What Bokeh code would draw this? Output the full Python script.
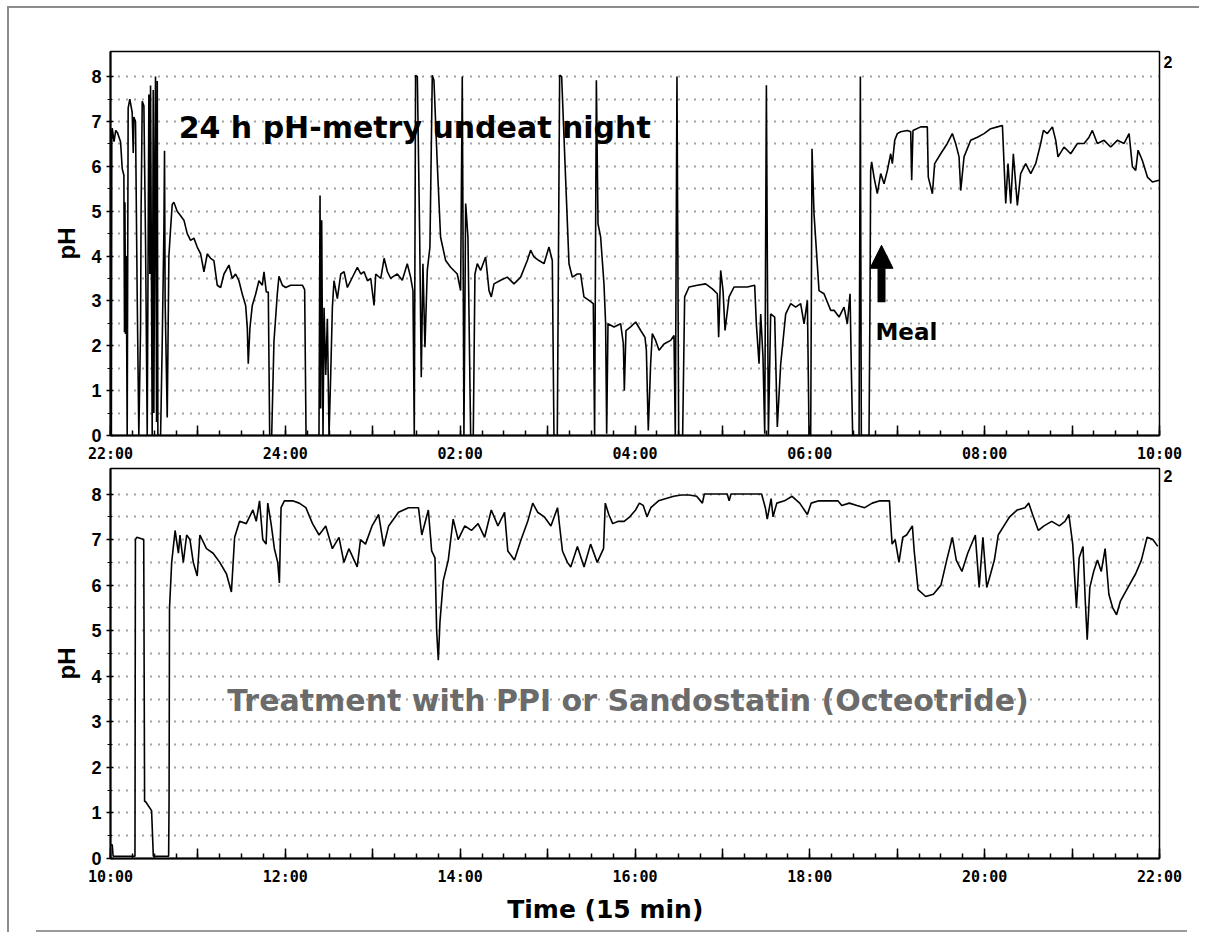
from bokeh.plotting import figure
from bokeh.models import Range1d, FixedTicker, Label, Arrow, NormalHead, Div, LinearAxis
from bokeh.layouts import column
from bokeh.embed import file_html
from bokeh.resources import INLINE

# ---------------- data (hours after start of each panel, pH) ----------------
top_hours = [
    0.00, 0.01, 0.015, 0.02, 0.04, 0.06, 0.08, 0.115, 0.134, 0.153, 0.16, 0.165, 0.172, 0.18, 0.191,
    0.202, 0.221, 0.248, 0.26, 0.267, 0.286, 0.305, 0.324, 0.344, 0.35, 0.363, 0.382, 0.401, 0.42,
    0.439, 0.45, 0.458, 0.477, 0.489, 0.496, 0.508, 0.515, 0.527, 0.535, 0.542, 0.573, 0.592, 0.611,
    0.618, 0.625, 0.649, 0.668, 0.687, 0.706, 0.725, 0.763, 0.802, 0.84, 0.878, 0.916, 0.954, 0.992,
    1.031, 1.069, 1.107, 1.145, 1.183, 1.221, 1.26, 1.298, 1.355, 1.393, 1.431, 1.469, 1.508, 1.546,
    1.565, 1.576, 1.595, 1.622, 1.66, 1.698, 1.737, 1.756, 1.782, 1.805, 1.821, 1.844, 1.87, 1.908,
    1.927, 1.966, 2.004, 2.061, 2.137, 2.195, 2.221, 2.237, 2.385, 2.397, 2.405, 2.416, 2.431, 2.443,
    2.462, 2.481, 2.5, 2.519, 2.538, 2.557, 2.595, 2.634, 2.672, 2.71, 2.748, 2.786, 2.824, 2.863,
    2.901, 2.939, 2.977, 3.015, 3.034, 3.092, 3.13, 3.168, 3.206,
    3.223, 3.281, 3.338, 3.395, 3.433, 3.46, 3.475, 3.49, 3.51, 3.536, 3.555, 3.574, 3.597, 3.624,
    3.654, 3.681, 3.7, 3.738, 3.776, 3.834, 3.891, 3.967, 4.005, 4.024, 4.036, 4.043, 4.063, 4.089,
    4.12, 4.15, 4.169, 4.196, 4.234, 4.291, 4.33, 4.356, 4.387, 4.463, 4.539, 4.616, 4.692, 4.768,
    4.806, 4.844, 4.901, 4.959, 5.016, 5.054, 5.073, 5.111, 5.138, 5.161, 5.207, 5.245, 5.283, 5.34,
    5.378, 5.416, 5.474, 5.523, 5.538, 5.558, 5.577, 5.607, 5.645, 5.664, 5.676, 5.691, 5.76, 5.836,
    5.867, 5.878, 5.897, 5.95, 6.008, 6.065, 6.114, 6.13, 6.152, 6.179, 6.198, 6.236, 6.275, 6.332,
    6.408, 6.446, 6.461, 6.48, 6.5, 6.545, 6.568, 6.618, 6.713, 6.808, 6.885, 6.942, 6.957, 6.98,
    7.007, 7.03, 7.076, 7.133, 7.209, 7.285, 7.369, 7.388, 7.419, 7.438, 7.464, 7.484, 7.503, 7.514,
    7.526, 7.552, 7.598, 7.628, 7.667, 7.724, 7.781, 7.838, 7.895, 7.934, 7.972, 7.991, 8.01, 8.025,
    8.048, 8.105, 8.162, 8.239,
    8.277, 8.334, 8.391, 8.429, 8.46, 8.475, 8.49, 8.563, 8.578, 8.589, 8.677, 8.688, 8.696, 8.707,
    8.734, 8.772, 8.811, 8.849, 8.887, 8.925, 8.944, 8.971, 9.001, 9.039, 9.116, 9.154, 9.165, 9.18,
    9.268, 9.344, 9.355, 9.402, 9.428, 9.497, 9.573, 9.63, 9.668, 9.707, 9.726, 9.764, 9.84, 9.917,
    9.993, 10.069, 10.145, 10.203, 10.241, 10.267, 10.298, 10.328, 10.374, 10.412, 10.469, 10.527,
    10.584, 10.641, 10.672, 10.717, 10.775, 10.813, 10.839, 10.908, 10.984, 11.061, 11.137, 11.194,
    11.232, 11.289, 11.366, 11.442, 11.518, 11.595, 11.652, 11.69, 11.728, 11.755, 11.804, 11.862,
    11.919, 11.995,
]
top_ph = [
    0.3, 0.0, 6.8, 6.85, 6.55, 6.8, 6.75, 6.55, 5.95, 5.8, 2.3, 5.2, 2.26, 4.0, 0.0,
    7.3, 7.5, 7.2, 6.3, 7.1, 7.0, 3.2, 0.0, 2.4, 5.0, 7.45, 7.35, 4.3, 0.0,
    7.6, 3.6, 7.8, 0.0, 7.7, 0.5, 6.0, 8.0, 0.3, 7.9, 0.0, 0.0, 2.1, 4.6,
    6.35, 3.0, 0.4, 4.0, 4.6, 5.15, 5.2, 5.0, 4.9, 4.8, 4.5, 4.35, 4.4, 4.2,
    4.05, 3.65, 4.05, 3.95, 3.9, 3.35, 3.3, 3.6, 3.8, 3.5, 3.6, 3.45, 3.15, 2.9,
    2.4, 1.6, 2.4, 2.9, 3.15, 3.45, 3.35, 3.65, 3.2, 3.2, 0.0, 0.0, 2.1, 3.15,
    3.55, 3.35, 3.3, 3.35, 3.35, 3.35, 3.25, 0.0, 0.0, 5.35, 0.6, 4.8, 0.0, 2.85,
    1.35, 2.6, 0.0, 1.35, 2.85, 3.45, 3.05, 3.6, 3.65, 3.3, 3.45, 3.6, 3.75, 3.6,
    3.65, 3.45, 3.5, 2.9, 3.6, 3.5, 3.95, 3.65, 3.5,
    3.53, 3.6, 3.46, 3.83, 3.53, 3.23, 0.0, 8.03, 8.0, 4.57, 1.3, 3.83, 1.97, 3.68,
    4.2, 8.03, 7.92, 6.06, 4.42, 3.9, 3.75, 3.6, 3.23, 8.0, 3.09, 0.0, 5.17, 4.42,
    0.0, 0.0, 3.6, 3.83, 3.68, 3.98, 3.23, 3.09, 3.38, 3.46, 3.53, 3.38, 3.53, 3.9,
    4.13, 3.98, 3.9, 3.83, 4.2, 3.9, 0.0, 0.0, 8.03, 8.0, 5.69, 3.83, 3.53, 3.6,
    3.6, 3.09, 3.01, 2.94, 0.0, 7.92, 4.72, 4.42, 3.38, 2.49, 0.04, 2.49, 2.42, 2.49,
    2.04, 1.0, 2.34, 2.42, 2.53, 2.34, 2.19, 1.9, 0.11, 1.6, 2.27, 2.12, 1.9, 2.04,
    2.12, 2.23, 0.0, 8.0, 0.0, 0.0, 3.09, 3.31, 3.35, 3.38, 3.27, 3.16, 2.19, 3.68,
    3.23, 2.34, 3.09, 3.31, 3.31, 3.31, 3.35, 2.49, 1.6, 2.71, 1.75, 0.04, 7.81, 3.83,
    0.0, 2.71, 2.64, 0.19, 1.6, 2.71, 2.94, 2.86, 2.94, 2.49, 3.01, 0.0, 0.0, 6.39,
    4.94, 3.23, 3.16, 2.79,
    2.79, 2.64, 2.86, 2.49, 3.16, 1.45, 0.0, 0.0, 8.0, 0.0, 0.0, 2.94, 5.91, 6.1,
    5.76, 5.39, 5.84, 5.61, 5.91, 6.28, 6.06, 6.58, 6.73, 6.77, 6.8, 6.77, 5.69, 6.8,
    6.88, 6.88, 5.76, 5.39, 6.06, 6.28, 6.51, 6.73, 6.51, 6.21, 5.46, 6.21, 6.58, 6.65,
    6.73, 6.84, 6.88, 6.91, 5.17, 6.06, 5.17, 6.28, 5.13, 5.84, 6.06, 5.84,
    6.06, 6.51, 6.8, 6.73, 6.88, 6.58, 6.21, 6.43, 6.28, 6.51, 6.51, 6.65,
    6.8, 6.51, 6.58, 6.43, 6.58, 6.51, 6.73, 5.99, 5.91, 6.36, 6.13, 5.76,
    5.65, 5.69,
]

bottom_hours = [
    0.00, 0.02, 0.03, 0.28, 0.285, 0.30, 0.38, 0.39, 0.40, 0.47, 0.49, 0.665, 0.67, 0.675, 0.70,
    0.739, 0.777, 0.795, 0.833, 0.871, 0.909, 0.947, 0.992, 1.023, 1.098, 1.174, 1.25, 1.326, 1.383,
    1.42, 1.477, 1.553, 1.629, 1.667, 1.705, 1.742, 1.78, 1.799, 1.837, 1.875, 1.913, 1.932, 1.951,
    1.989, 2.083, 2.159, 2.235, 2.311, 2.386, 2.462, 2.538, 2.614, 2.67, 2.727, 2.822, 2.86, 2.917,
    2.992, 3.068, 3.125, 3.182, 3.295, 3.409, 3.523, 3.561, 3.636, 3.674, 3.712, 3.731, 3.75, 3.769,
    3.807, 3.864, 3.92, 3.977, 4.053, 4.129, 4.205, 4.28, 4.356, 4.432, 4.508, 4.545, 4.621, 4.697,
    4.773, 4.83, 4.886, 4.962, 5.038, 5.114, 5.17, 5.227, 5.265, 5.341, 5.417, 5.492, 5.568, 5.64,
    5.66, 5.70, 5.745, 5.81, 5.876, 5.94, 6.007, 6.05, 6.094, 6.138, 6.181, 6.269, 6.356, 6.443,
    6.531, 6.618, 6.705, 6.771, 6.793, 6.88, 7.055, 7.077, 7.098, 7.448, 7.491, 7.513, 7.557, 7.579,
    7.622, 7.71, 7.797, 7.884, 7.972, 8.015, 8.103, 8.19, 8.321, 8.365, 8.452, 8.539, 8.627, 8.714,
    8.801, 8.911, 8.924, 8.941, 8.976, 9.02, 9.063, 9.107, 9.173, 9.194, 9.238, 9.325, 9.413, 9.5,
    9.566, 9.631, 9.675, 9.74, 9.806, 9.893, 9.937, 9.98, 10.024, 10.068, 10.111, 10.155, 10.22,
    10.286, 10.373, 10.461, 10.504, 10.548, 10.614, 10.679, 10.767, 10.854, 10.919, 10.963, 11.007,
    11.05, 11.081, 11.125, 11.151, 11.173, 11.203, 11.247, 11.29, 11.334, 11.378, 11.421, 11.465,
    11.509, 11.553, 11.64, 11.727, 11.793, 11.858, 11.924, 11.98,
]
bottom_ph = [
    0.3, 0.3, 0.05, 0.05, 7.0, 7.05, 7.0, 1.25, 1.25, 1.05, 0.05, 0.05, 1.3, 5.5, 6.5,
    7.2, 6.7, 7.1, 6.5, 7.1, 7.0, 6.5, 6.2, 7.1, 6.8, 6.7, 6.5, 6.25, 5.85,
    7.05, 7.4, 7.35, 7.65, 7.4, 7.85, 7.0, 6.9, 7.8, 7.35, 6.8, 6.5, 6.05, 7.7,
    7.85, 7.85, 7.8, 7.7, 7.35, 7.1, 7.3, 6.8, 7.05, 6.5, 6.8, 6.4, 7.0, 6.9,
    7.3, 7.55, 6.85, 7.3, 7.6, 7.7, 7.7, 7.1, 7.65, 6.75, 6.6, 5.0, 4.35, 5.2,
    6.1, 6.55, 7.45, 7.0, 7.3, 7.2, 7.35, 7.05, 7.65, 7.3, 7.6, 6.75, 6.55, 7.0,
    7.4, 7.8, 7.6, 7.5, 7.3, 7.7, 6.75, 6.5, 6.4, 6.85, 6.4, 6.9, 6.5, 6.8,
    7.8, 7.55, 7.35, 7.4, 7.4, 7.5, 7.65, 7.8, 7.75, 7.5, 7.7, 7.85, 7.9, 7.95,
    7.98, 7.98, 7.95, 7.8, 8.0, 8.0, 8.0, 7.85, 8.0, 8.0, 7.7, 7.45, 7.9, 7.5,
    7.8, 7.85, 7.95, 7.8, 7.55, 7.8, 7.85, 7.85, 7.85, 7.75, 7.8, 7.75, 7.7, 7.8,
    7.85, 7.85, 7.4, 6.9, 7.0, 6.5, 7.05, 7.1, 7.3, 6.75, 5.9, 5.75, 5.8, 6.0,
    6.55, 7.05, 6.55, 6.3, 6.7, 7.1, 5.95, 7.05, 5.95, 6.25, 6.55, 7.1, 7.3,
    7.5, 7.65, 7.7, 7.8, 7.55, 7.2, 7.3, 7.4, 7.3, 7.4, 7.55, 6.9,
    5.5, 6.6, 6.85, 5.65, 4.8, 5.95, 6.3, 6.55, 6.3, 6.8, 5.8, 5.5,
    5.35, 5.65, 5.95, 6.25, 6.55, 7.05, 7.0, 6.85,
]

top_tick_labels = ["22:00", "24:00", "02:00", "04:00", "06:00", "08:00", "10:00"]
bottom_tick_labels = ["10:00", "12:00", "14:00", "16:00", "18:00", "20:00", "22:00"]
labelled_hours = [0, 2, 4, 6, 8, 10, 12]
ph_ticks = [0, 1, 2, 3, 4, 5, 6, 7, 8]

# annotation positions (hours, pH)
TITLE_POS = (3.48, 6.87)
MEAL_ARROW = (8.82, 2.97, 4.24)
MEAL_POS = (8.75, 2.30)
TREAT_POS = (5.92, 3.47)
TIME_X = 5.66
TOP_MARK_Y = 8.32
BOTTOM_MARK_Y = 8.40

XMAX = 12
YMAX = 8.56
TEXT_FONT = "DejaVu Sans"


def make_panel(hours, ph, tick_labels, width, height, borders, mark_y):
    left, right, top, bottom = borders
    p = figure(width=width, height=height, output_backend="svg", toolbar_location=None,
               x_range=Range1d(0, XMAX), y_range=Range1d(0, YMAX),
               min_border_left=left, min_border_right=right,
               min_border_top=top, min_border_bottom=bottom)
    p.background_fill_color = "white"
    p.border_fill_color = "white"
    p.outline_line_color = "black"
    p.outline_line_width = 1.5

    p.line(hours, ph, line_color="black", line_width=1.6)

    # x axis
    overrides = {h: "" for h in range(XMAX + 1)}
    for h, lab in zip(labelled_hours, tick_labels):
        overrides[h] = lab
    p.xaxis.ticker = FixedTicker(ticks=list(range(XMAX + 1)),
                                 minor_ticks=[q / 4 for q in range(4 * XMAX + 1)])
    p.xaxis.major_label_overrides = overrides
    p.xaxis.major_tick_in = 10
    p.xaxis.major_tick_out = 0
    p.xaxis.minor_tick_in = 5
    p.xaxis.minor_tick_out = 0
    p.xaxis.major_tick_line_width = 1.5
    p.xaxis.minor_tick_line_width = 1.5
    p.xaxis.axis_line_width = 2
    p.xaxis.major_label_text_font = "DejaVu Sans Mono"
    p.xaxis.major_label_text_font_style = "bold"
    p.xaxis.major_label_text_font_size = "15px"
    p.xaxis.major_label_text_color = "black"
    p.xaxis.major_label_standoff = 9

    # y axis
    p.yaxis.ticker = FixedTicker(ticks=ph_ticks, minor_ticks=[k / 2 for k in range(17)])
    p.yaxis.major_tick_in = 3
    p.yaxis.major_tick_out = 4
    p.yaxis.minor_tick_in = 2
    p.yaxis.minor_tick_out = 3
    p.yaxis.major_tick_line_width = 1.5
    p.yaxis.minor_tick_line_width = 1.2
    p.yaxis.axis_line_width = 2
    p.yaxis.major_label_text_font = "Liberation Sans"
    p.yaxis.major_label_text_font_style = "bold"
    p.yaxis.major_label_text_font_size = "18px"
    p.yaxis.major_label_text_color = "black"
    p.yaxis.major_label_standoff = 5
    p.yaxis.axis_label = "pH"
    p.yaxis.axis_label_text_font = "Liberation Sans"
    p.yaxis.axis_label_text_font_style = "bold"
    p.yaxis.axis_label_text_font_size = "24px"
    p.yaxis.axis_label_text_color = "black"
    p.yaxis.axis_label_standoff = 8

    # grid
    p.xgrid.visible = False
    p.ygrid.ticker = FixedTicker(ticks=[k / 2 for k in range(1, 17)])
    p.ygrid.grid_line_color = "#444444"
    p.ygrid.grid_line_dash = "1 7"
    p.ygrid.grid_line_width = 2

    # small "2" mark to the right of the frame, as a tick-less right axis
    mark = LinearAxis(ticker=FixedTicker(ticks=[mark_y]), major_label_overrides={mark_y: "2"},
                      axis_line_color=None, major_tick_line_color=None,
                      minor_tick_line_color=None, major_tick_in=0, major_tick_out=0,
                      minor_tick_in=0, minor_tick_out=0, major_label_standoff=4,
                      major_label_text_font="Liberation Sans",
                      major_label_text_font_style="bold",
                      major_label_text_font_size="16px", major_label_text_color="black")
    p.add_layout(mark, "right")
    return p


p1 = make_panel(top_hours, top_ph, top_tick_labels, 1190, 458, (101, 40, 43, 31), TOP_MARK_Y)
p2 = make_panel(bottom_hours, bottom_ph, bottom_tick_labels, 1190, 460, (101, 35, 2, 68), BOTTOM_MARK_Y)

p1.add_layout(Label(x=TITLE_POS[0], y=TITLE_POS[1], text="24 h pH-metry undeat night",
                    text_font=TEXT_FONT, text_font_style="bold", text_font_size="30px",
                    text_align="center", text_baseline="middle", text_color="black"))
p1.add_layout(Arrow(end=NormalHead(size=23, fill_color="black", line_color="black"),
                    x_start=MEAL_ARROW[0], y_start=MEAL_ARROW[1],
                    x_end=MEAL_ARROW[0], y_end=MEAL_ARROW[2],
                    line_width=8, line_color="black"))
p1.add_layout(Label(x=MEAL_POS[0], y=MEAL_POS[1], text="Meal",
                    text_font=TEXT_FONT, text_font_style="bold", text_font_size="23px",
                    text_align="left", text_baseline="middle", text_color="black"))

p2.add_layout(Label(x=TREAT_POS[0], y=TREAT_POS[1],
                    text="Treatment with PPI or Sandostatin (Octeotride)",
                    text_font=TEXT_FONT, text_font_style="bold", text_font_size="30px",
                    text_align="center", text_baseline="middle", text_color="#6b6b6b"))

# x-axis title placed as a second, tick-less axis below the time axis
time_axis = LinearAxis(ticker=FixedTicker(ticks=[TIME_X]),
                       major_label_overrides={TIME_X: "Time (15 min)"},
                       axis_line_color=None, major_tick_line_color=None,
                       minor_tick_line_color=None, major_tick_in=0, major_tick_out=0,
                       minor_tick_in=0, minor_tick_out=0, major_label_standoff=6,
                       major_label_text_font=TEXT_FONT, major_label_text_font_style="bold",
                       major_label_text_font_size="25px", major_label_text_color="black")
p2.add_layout(time_axis, "below")

rule = Div(text="", width=1151, height=2, margin=(4, 0, 0, 27),
           styles={"border-top": "2px solid #9a9a9a"})

layout = column(p1, p2, rule, margin=(6, 0, 0, 7),
                styles={"border-left": "2px solid #8c8c8c", "border-top": "2px solid #8c8c8c"})

open("out.html", "w").write(file_html(layout, INLINE))
